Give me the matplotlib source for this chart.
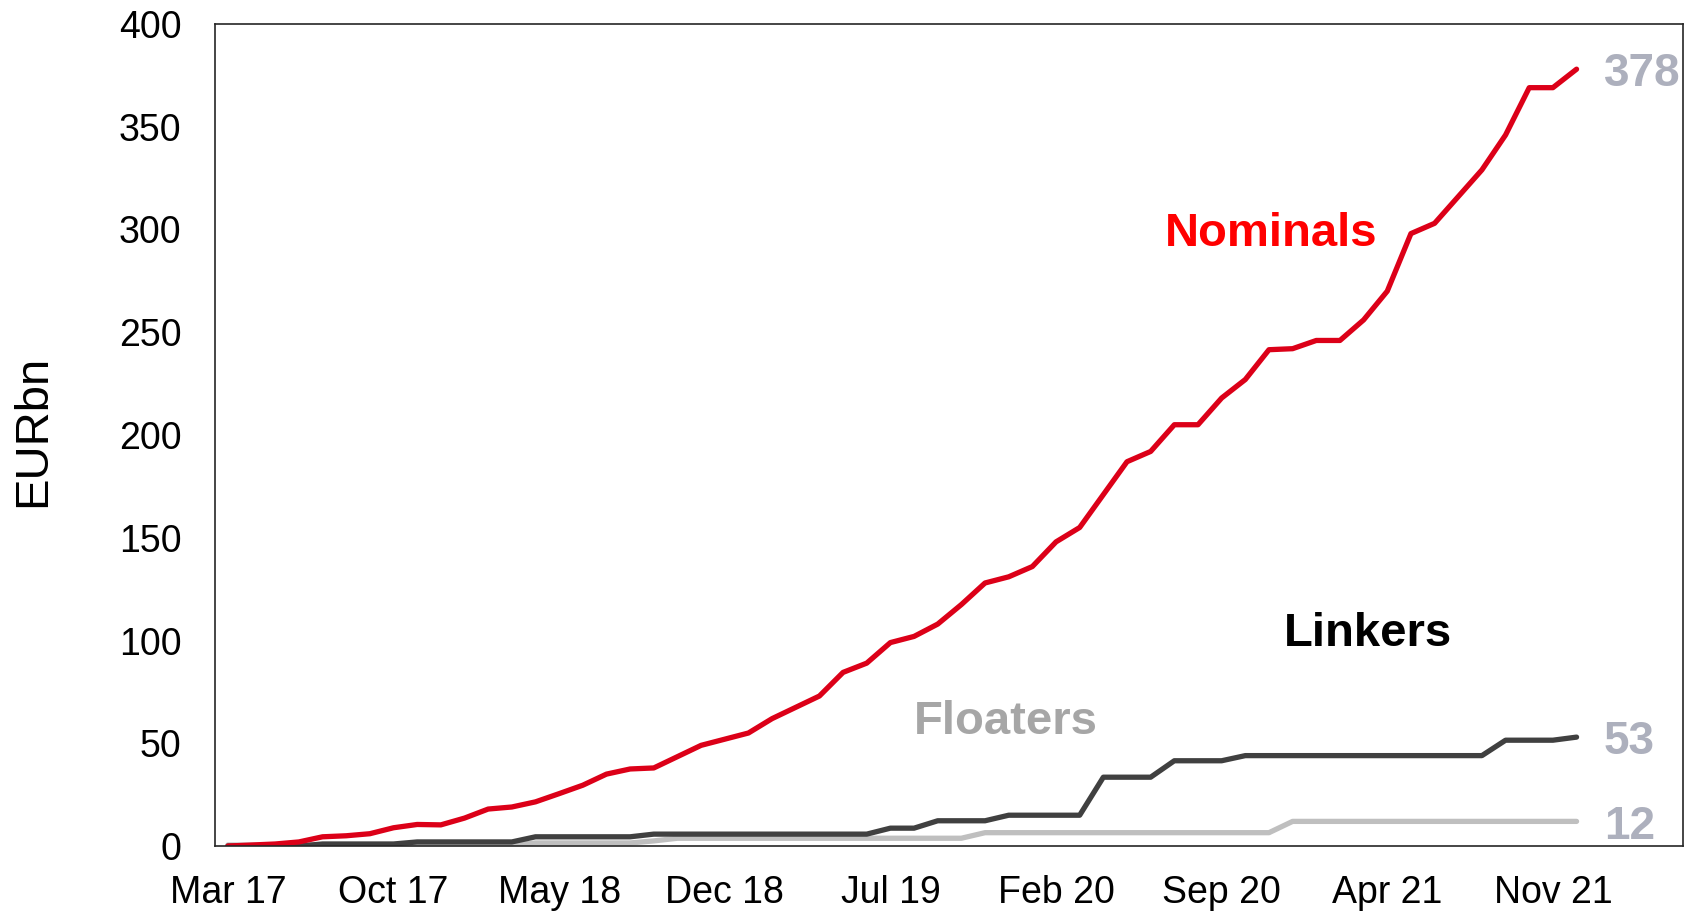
import matplotlib
matplotlib.use("Agg")
import matplotlib.pyplot as plt
import numpy as np
import pandas as pd

plt.rcParams['font.family'] = ['Liberation Sans', 'DejaVu Sans']

# monthly stock of bonds, EURbn, Mar 2017 - Dec 2021
months = pd.date_range("2017-03-01", "2021-12-01", freq="MS")

nominals = [0, 0.5, 1, 2, 4.5, 5, 6, 8.9, 10.5, 10.3, 13.6, 18, 19, 21.5,
            25.5, 29.6, 35, 37.5, 38, 43.5, 49, 52, 55, 62, 67.5, 73, 84.5,
            89, 99, 102, 108, 117.5, 128, 131, 136, 148, 155, 171, 187, 192,
            205, 205, 218, 227, 241.5, 242, 246, 246, 256, 270, 298, 303,
            316, 329, 346, 369, 369, 378]

linkers = [0, 0, 0, 0, 1, 1, 1, 1, 2, 2, 2, 2, 2, 4.5, 4.5, 4.5, 4.5, 4.5,
           5.8, 5.8, 5.8, 5.8, 5.8, 5.8, 5.8, 5.8, 5.8, 5.8, 8.7, 8.7,
           12.3, 12.3, 12.3, 15, 15, 15, 15, 33.5, 33.5, 33.5, 41.5, 41.5,
           41.5, 44, 44, 44, 44, 44, 44, 44, 44, 44, 44, 44, 51.5, 51.5,
           51.5, 53]

floaters = [0.5] * 13 + [1.5] * 5 + [2.5] + [3.8] * 13 + [6.5] * 13 + [12] * 13

tick_step = 7
tick_labels = [m.strftime("%b %y") for m in months[::tick_step]]

x = np.arange(len(months))

fig = plt.figure(figsize=(16.92, 9.11), dpi=100)
ax = fig.add_axes([0.127, 0.0713, 0.8677, 0.9024])

lw = 3.8
ax.plot(x, floaters, color="#BFBFBF", linewidth=lw, solid_capstyle="round")
ax.plot(x, linkers, color="#404040", linewidth=lw, solid_capstyle="round")
ax.plot(x, nominals, color="#DC0018", linewidth=lw, solid_capstyle="round")

ax.set_xlim(-0.55, 61.5)
ax.set_ylim(0, 400)
ax.set_yticks(range(0, 401, 50))
ax.set_xticks(x[::tick_step])
ax.set_xticklabels(tick_labels)
ax.tick_params(axis="both", length=0, labelsize=27)
ax.tick_params(axis="y", pad=24)
ax.tick_params(axis="x", pad=21)

for s in ax.spines.values():
    s.set_linewidth(1.2)
    s.set_color("#262626")

ax.set_ylabel("EURbn", fontsize=34)
ax.yaxis.set_label_coords(-0.109, 0.505)

# series names
ax.text(44.1, 298, "Nominals", color="#FF0000", fontsize=34, fontweight="bold",
        ha="center", va="center")
ax.text(48.2, 103, "Linkers", color="black", fontsize=34, fontweight="bold",
        ha="center", va="center")
ax.text(32.9, 60.5, "Floaters", color="#A6A6A6", fontsize=34, fontweight="bold",
        ha="center", va="center")

# latest values
end_color = "#ADB0BD"
for series in (nominals, linkers, floaters):
    ax.text(x[-1] + 1.15, series[-1] - 2.5, f"{series[-1]:.0f}", color=end_color,
            fontsize=33, fontweight="bold", ha="left", va="center")

fig.savefig("out.png", dpi=100)
